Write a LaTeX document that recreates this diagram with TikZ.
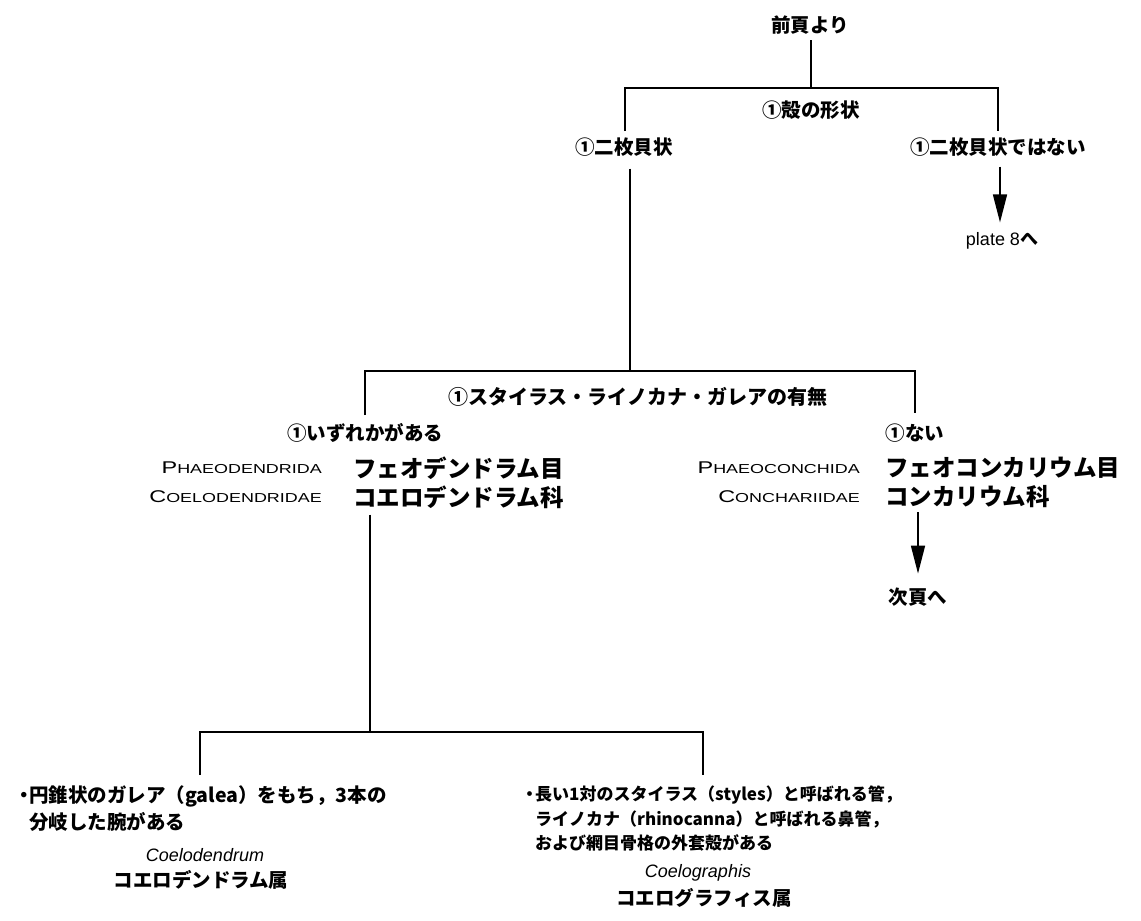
\documentclass[tikz,border=0pt]{standalone}
\usepackage{graphicx}
\usepackage{fontspec}
\setmainfont{Liberation Sans}
\newfontfamily\jp{Noto Sans CJK JP}
\usetikzlibrary{arrows.meta}
\newcommand\smcap[2]{\scalebox{1.38}[1]{\fontsize{17}{17}\selectfont #1\fontsize{13}{13}\selectfont #2}}
\tikzset{
  ln/.style={line width=1.6pt},
  arr/.style={line width=1.6pt,-{Triangle[length=28pt,width=14pt]}},
  lbl/.style={inner sep=0pt,font={\jp\bfseries\fontsize{19.5}{21}\selectfont}},
  big/.style={inner sep=0pt,anchor=west,font={\jp\bfseries\fontsize{23.5}{25}\selectfont}},
  latn/.style={inner sep=0pt,anchor=east},
  desc/.style={inner sep=0pt,anchor=north west,align=left,font={\jp\bfseries\fontsize{19.5}{27}\selectfont}},
  genus/.style={inner sep=0pt,font={\itshape\fontsize{18}{20}\selectfont}},
}
\begin{document}
\begin{tikzpicture}[x=1pt,y=-1pt]
\useasboundingbox (0,0) rectangle (1141,921);
% top level
\node[lbl] (src) at (810,25) {前頁より};
\coordinate (j1) at (811,88);
\coordinate (l1) at (625,131);
\coordinate (r1) at (998,131);
\node[lbl] (q1) at (811,110) {①殻の形状};
\node[lbl] (a1) at (624,147) {①二枚貝状};
\node[lbl] (b1) at (998,147) {①二枚貝状ではない};
\node[inner sep=0pt,font={\fontsize{18}{20}\selectfont}] (p8) at (1002,241) {plate 8{\jp\bfseries へ}};
\draw[ln,shorten <=6pt] (src.south -| j1) -- (j1);
\draw[ln] (l1) |- (j1) -| (r1);
\draw[arr,shorten <=10pt,shorten >=10pt] (b1.south) ++(2,0) coordinate (b1s) -- (b1s |- p8.north);
% second level
\coordinate (j2) at (630,371);
\coordinate (l2) at (365,415);
\coordinate (r2) at (915,413);
\draw[ln,shorten <=12pt] (a1.south -| j2) -- (j2);
\draw[ln] (l2) |- (j2) -| (r2);
\node[lbl,font={\jp\bfseries\fontsize{20}{22}\selectfont}] (q2) at (638,397) {①スタイラス・ライノカナ・ガレアの有無};
\node[lbl] (a2) at (365,433) {①いずれかがある};
\node[lbl] (b2) at (915,433) {①ない};
\node[latn] (o1) at (322,468) {\smcap{P}{HAEODENDRIDA}};
\node[big] (o1j) at (353,468) {フェオデンドラム目};
\node[latn] (f1) at (322,497) {\smcap{C}{OELODENDRIDAE}};
\node[big] (f1j) at (353,497) {コエロデンドラム科};
\node[latn] (o2) at (860,468) {\smcap{P}{HAEOCONCHIDA}};
\node[big] (o2j) at (885,468) {フェオコンカリウム目};
\node[latn] (f2) at (860,497) {\smcap{C}{ONCHARIIDAE}};
\node[big] (f2j) at (885,497) {コンカリウム科};
\node[lbl] (nx) at (918,597) {次頁へ};
\draw[arr,shorten <=4pt,shorten >=14pt] (f2j.south -| nx) -- (nx.north);
% third level
\coordinate (j3) at (370,732);
\coordinate (l3) at (200,775);
\coordinate (r3) at (703,775);
\draw[ln,shorten <=6pt] (f1j.south -| j3) -- (j3);
\draw[ln] (l3) |- (j3) -| (r3);
\node[desc] (d1) at (29,785) {\llap{・\hspace{-5pt}}円錐状のガレア（galea）をもち，3本の\\分岐した腕がある};
\node[genus] (g1) at (205,855) {Coelodendrum};
\node[lbl] (g1j) at (201,880) {コエロデンドラム属};
\node[desc,font={\jp\bfseries\fontsize{17}{24.5}\selectfont}] (d2) at (535,786) {\llap{・\hspace{-3pt}}長い1対のスタイラス（styles）と呼ばれる管，\\ライノカナ（rhinocanna）と呼ばれる鼻管，\\および網目骨格の外套殻がある};
\node[genus] (g2) at (698,873) {Coelographis};
\node[lbl] (g2j) at (704,898) {コエログラフィス属};
\end{tikzpicture}
\end{document}
